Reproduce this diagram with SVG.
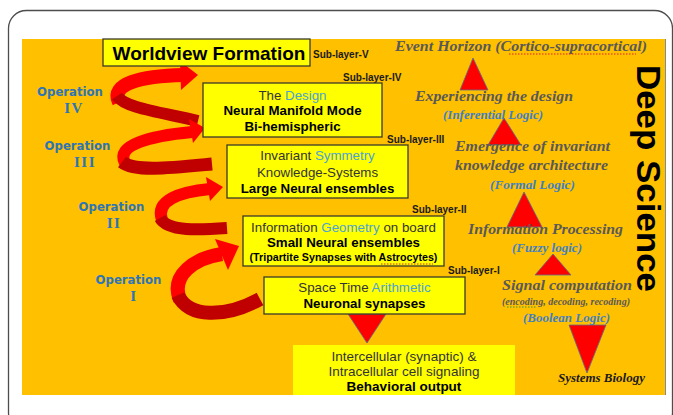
<svg xmlns="http://www.w3.org/2000/svg" width="673" height="415" viewBox="0 0 673 415">
<defs>
<style>
.box{fill:#FFFF00;stroke:#3a3a2a;stroke-width:1.3}
.bt{font-family:"Liberation Sans",Arial,sans-serif;font-size:13.3px;fill:#333;text-anchor:middle}
.bb{font-weight:bold;fill:#000}
.hl{fill:#4BA3D3}
.sub{font-family:"Liberation Sans",Arial,sans-serif;font-size:10px;font-weight:bold;fill:#1a1a1a}
.op{font-family:"DejaVu Sans",Verdana,sans-serif;font-size:11.7px;font-weight:bold;fill:#2E75B6;text-anchor:middle}
.rn{font-family:"Liberation Serif","Times New Roman",serif;font-size:15px;font-weight:bold;fill:#2E75B6;text-anchor:middle;letter-spacing:1.5px}
.rt{font-family:"Liberation Serif","Times New Roman",serif;font-style:italic;font-weight:bold;font-size:15px;fill:#595959}
.lg{font-family:"Liberation Serif","Times New Roman",serif;font-style:italic;font-weight:bold;font-size:12.5px;fill:#3F80C2}
.tri{fill:#FF0000;stroke:#5b6f8a;stroke-width:0.8}
.br{fill:none;stroke:#FF0000;stroke-linecap:butt}
.dk{fill:none;stroke:#C00000;stroke-linecap:butt}
.ah{fill:#FF0000}
.sp{fill:none;stroke:#E02020;stroke-width:1;stroke-dasharray:1.5 1.5}
</style>
</defs>
<rect x="8.5" y="10.5" width="664" height="420" rx="18" fill="#FFFFFF" stroke="#4d4d4d" stroke-width="1.3"/>
<rect id="background" x="22" y="39" width="643" height="356" fill="#FFC000"/>
<line x1="665.5" y1="39" x2="665.5" y2="395" stroke="#7f8a99" stroke-width="1"/>

<g id="connectors">
  <!-- Operation IV spiral -->
  <path class="br" stroke-width="14" d="M 119,102 C 110,84 140,76 184,75"/>
  <polygon class="ah" points="180,61 198,75 181,90"/>
  <path class="dk" stroke-width="12" d="M 117,96 C 125,108 160,112 198,121"/>
  <!-- Operation III spiral -->
  <path class="br" stroke-width="12" d="M 125,163 C 115,145 150,136 192,132"/>
  <polygon class="ah" points="189,119 205,128 193,143"/>
  <path class="dk" stroke-width="13" d="M 122,162 C 135,172 170,168 212,164"/>
  <!-- Operation II spiral -->
  <path class="br" stroke-width="12" d="M 162,220 C 155,200 180,192 210,189"/>
  <polygon class="ah" points="206,177 223,187 210,201"/>
  <path class="dk" stroke-width="12" d="M 160,218 C 168,232 200,230 227,228"/>
  <!-- Operation I spiral -->
  <path class="br" stroke-width="14" d="M 180,300 C 170,275 195,258 222,254"/>
  <polygon class="ah" points="215,239 239,246 228,270"/>
  <path class="dk" stroke-width="14" d="M 178,295 C 188,318 225,318 260,299"/>
  <!-- triangles -->
  <polygon class="tri" points="473,58 460,90 488,90"/>
  <polygon class="tri" points="504,118 488,145 521,145"/>
  <polygon class="tri" points="524,192 507,227 542,227"/>
  <polygon class="tri" points="553,254 535,275 571,275"/>
  <polygon class="tri" points="569,325 606,325 587,373"/>
  <polygon class="tri" points="348,314 386,314 367,343"/>
</g>

<g id="worldview">
  <rect class="box" x="103" y="39" width="207" height="27"/>
  <text x="209" y="60" font-family="Liberation Sans,Arial,sans-serif" font-size="19" font-weight="bold" text-anchor="middle" fill="#000">Worldview Formation</text>
</g>

<g id="sublayers">
  <text class="sub" x="313" y="58">Sub-layer-V</text>
  <text class="sub" x="343" y="81">Sub-layer-IV</text>
  <text class="sub" x="387" y="143">Sub-layer-III</text>
  <text class="sub" x="412" y="213">Sub-layer-II</text>
  <text class="sub" x="448" y="274">Sub-layer-I</text>
</g>

<g id="design">
  <rect class="box" x="203" y="83" width="179" height="54"/>
  <text class="bt" x="292.5" y="100">The <tspan class="hl">Design</tspan></text>
  <text class="bt bb" x="292.5" y="115">Neural Manifold Mode</text>
  <text class="bt bb" x="292.5" y="131">Bi-hemispheric</text>
</g>

<g id="invariant">
  <rect class="box" x="227" y="145" width="181" height="53"/>
  <text class="bt" x="317.5" y="160">Invariant <tspan class="hl">Symmetry</tspan></text>
  <text class="bt" x="317.5" y="177">Knowledge-Systems</text>
  <text class="bt bb" x="317.5" y="193">Large Neural ensembles</text>
</g>

<g id="information">
  <rect class="box" x="243" y="216" width="201" height="50"/>
  <text class="bt" x="343.5" y="232">Information <tspan class="hl">Geometry</tspan> on board</text>
  <text class="bt bb" x="343.5" y="247">Small Neural ensembles</text>
  <text class="bt bb" x="343.5" y="261" style="font-size:10.7px">(Tripartite Synapses with Astrocytes)</text>
  <line class="sp" x1="381" y1="264" x2="433" y2="264"/>
</g>

<g id="spacetime">
  <rect class="box" x="264" y="277" width="201" height="37"/>
  <text class="bt" x="364.5" y="292">Space Time <tspan class="hl">Arithmetic</tspan></text>
  <text class="bt bb" x="364.5" y="308">Neuronal synapses</text>
</g>

<g id="output">
  <rect x="293" y="345" width="222" height="50" fill="#FFFF00"/>
  <text class="bt" x="404" y="361" style="font-size:13.5px">Intercellular (synaptic) &amp;</text>
  <text class="bt" x="404" y="376" style="font-size:13.5px">Intracellular cell signaling</text>
  <text class="bt bb" x="404" y="391" style="font-size:13.5px">Behavioral output</text>
</g>

<g id="operations">
  <text class="op" x="70" y="96">Operation</text>
  <text class="rn" x="74" y="113">IV</text>
  <text class="op" x="77.5" y="150">Operation</text>
  <text class="rn" x="85" y="167">III</text>
  <text class="op" x="111.5" y="211">Operation</text>
  <text class="rn" x="114" y="228">II</text>
  <text class="op" x="128.5" y="284">Operation</text>
  <text class="rn" x="134" y="301">I</text>
</g>

<g id="deep-science-levels">
  <text class="rt" x="395" y="51" textLength="252" lengthAdjust="spacingAndGlyphs">Event Horizon (Cortico-supracortical)</text>
  <line class="sp" x1="509" y1="54" x2="636" y2="54"/>
  <text class="rt" x="415" y="101" textLength="158" lengthAdjust="spacingAndGlyphs">Experiencing the design</text>
  <text class="lg" x="443" y="119" textLength="100" lengthAdjust="spacingAndGlyphs">(Inferential Logic)</text>
  <text class="rt" x="455" y="151" textLength="155" lengthAdjust="spacingAndGlyphs">Emergence of invariant</text>
  <text class="rt" x="455" y="170" textLength="153" lengthAdjust="spacingAndGlyphs">knowledge architecture</text>
  <text class="lg" x="490" y="189" textLength="85" lengthAdjust="spacingAndGlyphs">(Formal Logic)</text>
  <text class="rt" x="468" y="234" textLength="155" lengthAdjust="spacingAndGlyphs">Information Processing</text>
  <text class="lg" x="512" y="252" textLength="70" lengthAdjust="spacingAndGlyphs">(Fuzzy logic)</text>
  <text class="rt" x="502" y="290" textLength="130" lengthAdjust="spacingAndGlyphs">Signal computation</text>
  <text class="rt" x="502" y="305" style="font-size:9.5px" textLength="128" lengthAdjust="spacingAndGlyphs">(encoding, decoding, recoding)</text>
  <line x1="507" y1="307" x2="536" y2="307" stroke="#3a9a3a" stroke-width="1" stroke-dasharray="1.5 1.5"/>
  <text class="lg" x="523" y="322" textLength="87" lengthAdjust="spacingAndGlyphs">(Boolean Logic)</text>
  <text class="rt" x="558" y="382" style="font-size:12px;fill:#1a1a1a" textLength="87" lengthAdjust="spacingAndGlyphs">Systems Biology</text>
</g>

<g id="deep-science">
  <text transform="translate(637,65) rotate(90)" x="0" y="0" font-family="Liberation Sans,Arial,sans-serif" font-size="33" font-weight="bold" fill="#000" textLength="227" lengthAdjust="spacingAndGlyphs">Deep Science</text>
</g>
</svg>
